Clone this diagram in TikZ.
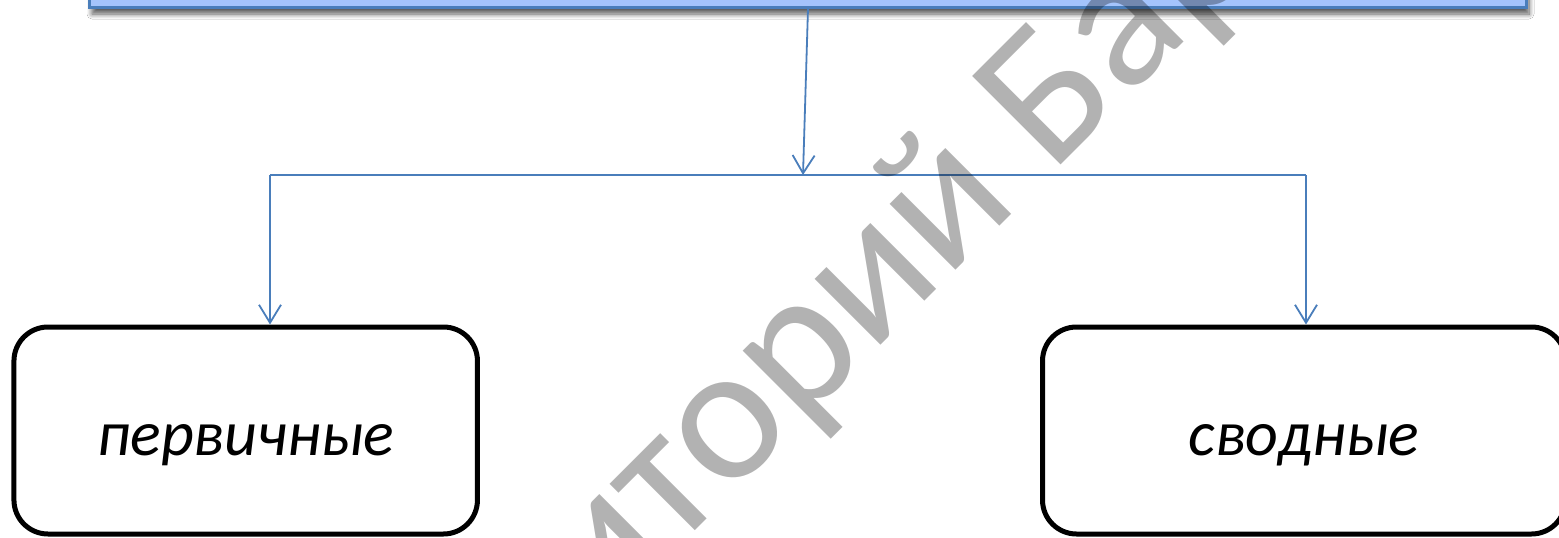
\documentclass[tikz,border=0pt]{standalone}
\usepackage{fontspec}
\setmainfont{Carlito}
\usetikzlibrary{arrows.meta,shadows.blur}
\definecolor{topfill}{RGB}{164,196,252}
\definecolor{topline}{RGB}{74,126,187}
\definecolor{conncol}{RGB}{74,126,187}
\begin{document}
\begin{tikzpicture}[x=1pt,y=-1pt,
  box/.style={draw=black,line width=5pt,rounded corners=34pt,fill=white,inner sep=0pt,
    text height=49pt,text depth=0pt,font=\itshape\fontsize{64}{70}\selectfont},
  link/.style={draw=conncol,line width=1.8pt},
  arr/.style={link,-{Straight Barb[length=18pt,width=22pt]}}]
\clip (0,0) rectangle (1559,538);
\fill[white] (0,0) rectangle (1559,538);
\node[draw=topline,fill=topfill,line width=3pt,minimum width=1437pt,minimum height=60pt,inner sep=0pt,
  blur shadow={shadow xshift=3pt,shadow yshift=-7pt,shadow blur radius=5pt,shadow blur steps=8,shadow opacity=65}] (top) at (807.5,-23) {};
\node[box,minimum width=463.5pt,minimum height=207pt] (prim) at (245.7,430.5) {первичные};
\node[box,minimum width=523pt,minimum height=207pt] (svod) at (1304,430.5) {сводные};
\coordinate (j) at (803,175);
\coordinate (hl) at (270,175);
\coordinate (hr) at (1306,175);
\draw[arr] ([xshift=0.5pt]top.south) -- (j);
\draw[link] (hl) -- (hr);
\draw[arr] (hl) -- (hl |- prim.north);
\draw[arr] (hr) -- (hr |- svod.north);
\node[rotate=45,anchor=base east,font=\fontsize{195}{195}\selectfont,text=black,opacity=0.3,inner sep=0pt] (wm) at (1052,174) {Репозиторий \rlap{БарГУ}};
\end{tikzpicture}
\end{document}
